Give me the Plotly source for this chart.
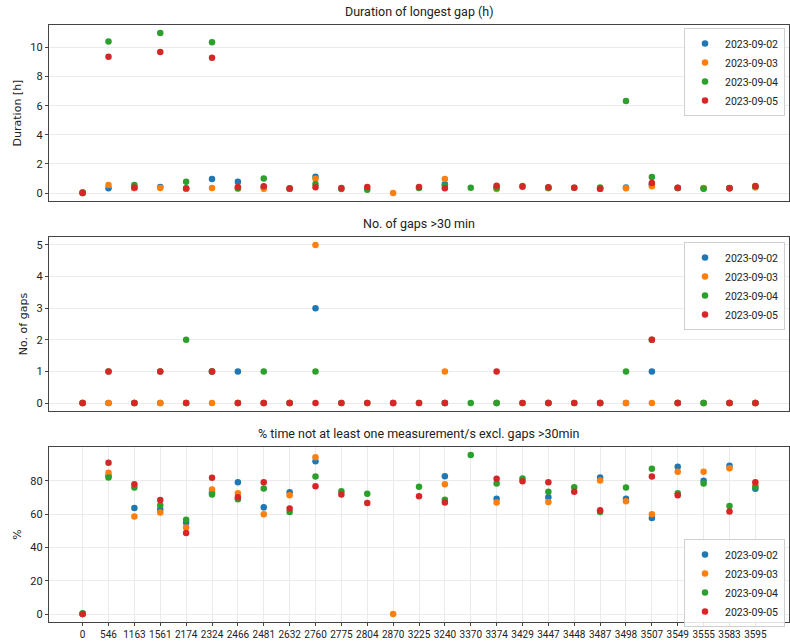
import plotly.graph_objects as go

categories = ["0", "546", "1163", "1561", "2174", "2324", "2466", "2481", "2632", "2760",
              "2775", "2804", "2870", "3225", "3240", "3370", "3374", "3429", "3447", "3448",
              "3487", "3498", "3507", "3549", "3555", "3583", "3595"]
series_names = ["2023-09-02", "2023-09-03", "2023-09-04", "2023-09-05"]
series_colors = ["#1f77b4", "#ff7f0e", "#2ca02c", "#d62728"]

# Duration of longest gap (h)
dur_0902 = [0, 0.32, 0.35, 0.42, 0.3, 0.96, 0.78, 0.4, 0.3, 1.12, None, None, None, None, 0.6, None, 0.4, None, 0.36, None, 0.3, 0.38, 0.6, 0.35, 0.33, 0.33, 0.42]
dur_0903 = [0, 0.55, 0.35, 0.35, 0.3, 0.34, 0.3, 0.3, 0.3, 0.98, None, None, 0.0, None, 0.96, None, 0.27, None, 0.33, None, 0.3, 0.32, 0.46, 0.35, 0.35, 0.33, 0.4]
dur_0904 = [0.05, 10.41, 0.55, 11.0, 0.78, 10.37, 0.35, 1.0, 0.3, 0.62, 0.28, 0.23, None, 0.35, 0.5, 0.36, 0.35, 0.48, 0.36, 0.36, 0.37, 6.33, 1.1, 0.35, 0.3, 0.33, 0.45]
dur_0905 = [0, 9.36, 0.38, 9.7, 0.32, 9.29, 0.41, 0.46, 0.32, 0.39, 0.34, 0.41, None, 0.41, 0.33, None, 0.5, 0.43, 0.39, 0.36, 0.3, None, 0.69, 0.36, None, 0.34, 0.48]

# No. of gaps > 30 min
gaps_0902 = [0, 0, 0, 0, 0, 1, 1, 0, 0, 3, None, None, 0, None, 0, None, 0, None, 0, None, 0, 0, 1, 0, 0, 0, 0]
gaps_0903 = [0, 0, 0, 0, 0, 0, 0, 0, 0, 5, None, None, 0, None, 1, None, 0, None, 0, None, 0, 0, 0, 0, 0, 0, 0]
gaps_0904 = [0, 1, 0, 1, 2, 1, 0, 1, 0, 1, 0, 0, None, 0, 0, 0, 0, 0, 0, 0, 0, 1, 2, 0, 0, 0, 0]
gaps_0905 = [0, 1, 0, 1, 0, 1, 0, 0, 0, 0, 0, 0, 0, 0, 0, None, 1, 0, 0, 0, 0, None, 2, 0, None, 0, 0]

# % time not at least one measurement/s excl. gaps > 30 min
pct_0902 = [0, 83, 63.7, 62.7, 55.0, 73, 79.2, 64.1, 73.2, 91.7, None, None, None, None, 82.7, None, 69.3, None, 70.1, None, 82.0, 69.3, 57.7, 88.5, 80.0, 89.1, 75.2]
pct_0903 = [0, 84.9, 58.6, 60.9, 52.0, 74.8, 72.6, 59.9, 71.3, 94.1, None, None, 0, None, 78.0, None, 66.9, None, 67.3, None, 80.2, 67.7, 59.9, 85.4, 85.4, 87.5, 77]
pct_0904 = [0.5, 82.0, 76.0, 65.3, 56.6, 71.8, 68.9, 75.4, 61.3, 82.6, 73.8, 72.2, None, 76.4, 68.7, 95.5, 78.4, 81.4, 73.4, 76.2, 61.3, 76.0, 87.3, 72.6, 78.4, 64.9, 76.2]
pct_0905 = [0, 90.9, 78.0, 68.5, 48.6, 81.8, 70.2, 79.2, 63.3, 76.8, 71.8, 66.7, None, 70.8, 66.9, None, 81.2, 79.8, 79.2, 73.4, 62.3, None, 82.6, 71.3, None, 61.5, 79.2]

panels = [
    ("Duration of longest gap (h)", "Duration [h]", [dur_0902, dur_0903, dur_0904, dur_0905], [-0.55, 11.55], [0, 2, 4, 6, 8, 10]),
    ("No. of gaps >30 min", "No. of gaps", [gaps_0902, gaps_0903, gaps_0904, gaps_0905], [-0.25, 5.25], [0, 1, 2, 3, 4, 5]),
    ("% time not at least one measurement/s excl. gaps >30min", "%", [pct_0902, pct_0903, pct_0904, pct_0905], [-4.78, 100.3], [0, 20, 40, 60, 80]),
]

W, H = 790, 642
boxes = [(25, 201), (237, 411), (447, 622)]
legend_tops = [28, 242, 539]
x_left, x_right = 49, 789

NARROW = "Roboto, Liberation Sans, sans-serif"
TICKFONT = dict(family=NARROW, size=10, color="#222")
LABELFONT = dict(family="DejaVu Sans, sans-serif", size=11, color="#222")

fig = go.Figure()
layout = dict(width=W, height=H, margin=dict(l=0, r=0, t=0, b=0),
              paper_bgcolor="white", plot_bgcolor="white", annotations=[])

for i, (title, ylab, vals, yr, ytv) in enumerate(panels):
    xa = "x" if i == 0 else f"x{i+1}"
    ya = "y" if i == 0 else f"y{i+1}"
    leg = "legend" if i == 0 else f"legend{i+1}"
    for name, color, v in zip(series_names, series_colors, vals):
        fig.add_trace(go.Scatter(x=categories, y=v, mode="markers", name=name,
                                 marker=dict(color=color, size=6.5, line=dict(width=0)),
                                 xaxis=xa, yaxis=ya, legend=leg, cliponaxis=False))
    top, bot = boxes[i]
    xkey = "xaxis" if i == 0 else f"xaxis{i+1}"
    ykey = "yaxis" if i == 0 else f"yaxis{i+1}"
    layout[xkey] = dict(domain=[x_left / W, x_right / W], anchor=ya,
                        type="category", categoryorder="array", categoryarray=categories,
                        range=[-1.3, 27.3], showline=True, mirror=True, linecolor="#444", linewidth=1.2,
                        showgrid=(i == 2), gridcolor="#ebebeb", gridwidth=1,
                        showticklabels=(i == 2), ticks="outside" if i == 2 else "",
                        ticklen=3, tickcolor="#444", tickfont=TICKFONT, tickangle=0, zeroline=False)
    layout[ykey] = dict(domain=[1 - bot / H, 1 - top / H], anchor=xa, range=yr,
                        tickvals=ytv, showline=True, mirror=True, linecolor="#444", linewidth=1.2,
                        showgrid=True, gridcolor="#ebebeb", gridwidth=1, zeroline=False,
                        ticks="outside", ticklen=3, tickcolor="#444", tickfont=dict(TICKFONT, size=11),
                        title=dict(text=ylab, font=LABELFONT, standoff=6))
    layout[leg] = dict(x=785 / W, y=1 - legend_tops[i] / H, xanchor="right", yanchor="top",
                       bgcolor="rgba(255,255,255,0.85)", bordercolor="#d0d0d0", borderwidth=1,
                       font=dict(family=NARROW, size=10.5, color="#222"),
                       itemwidth=30, tracegroupgap=0)
    layout["annotations"].append(dict(text=title, x=(x_left + x_right) / 2 / W, y=1 - (top - 4) / H,
                                      xref="paper", yref="paper", xanchor="center", yanchor="bottom",
                                      showarrow=False,
                                      font=dict(family=NARROW, size=12.5, color="#222")))

fig.update_layout(**layout)
fig.write_html("out.html")
